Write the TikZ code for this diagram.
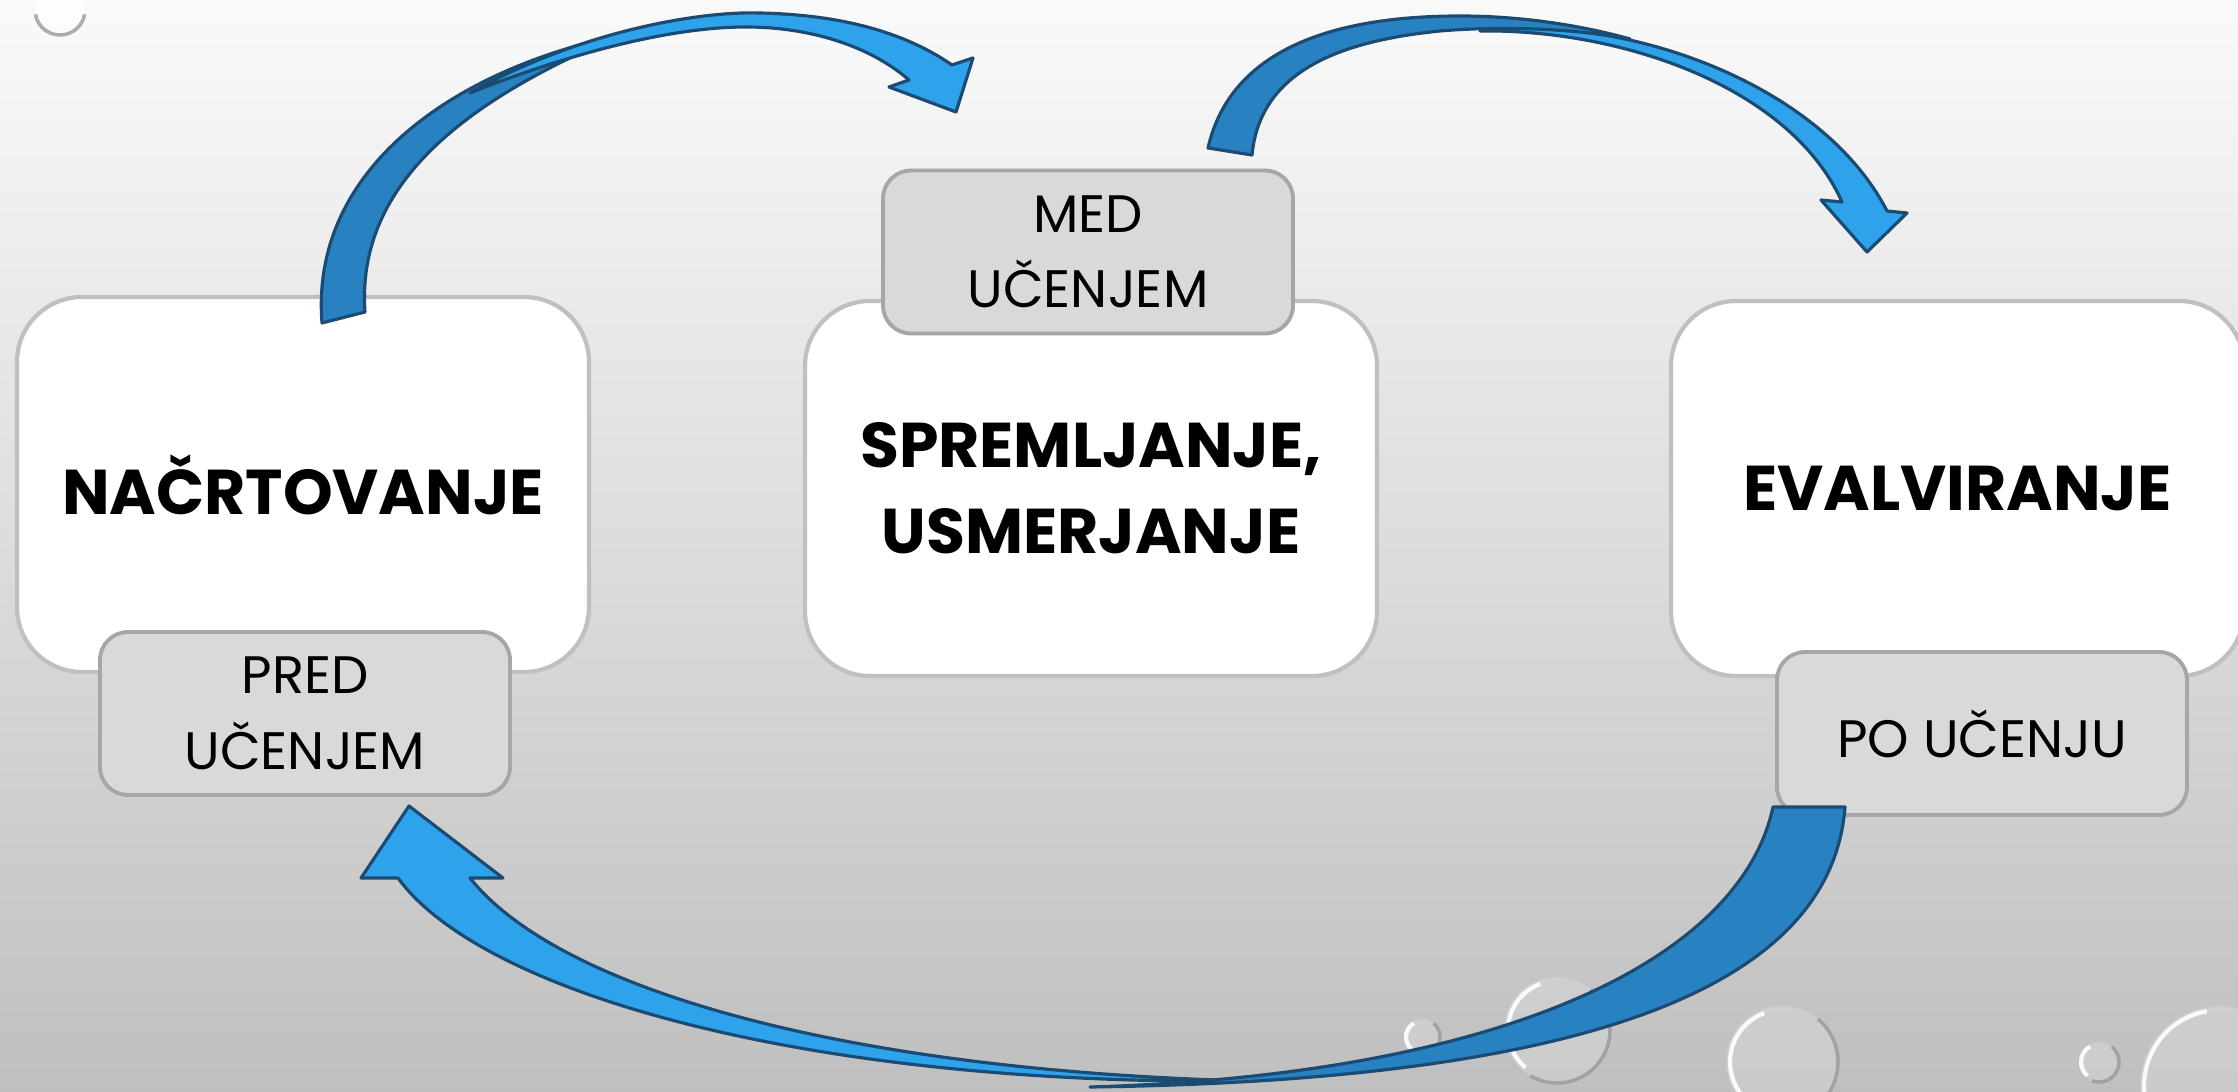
\documentclass[tikz,border=0pt]{standalone}
\usepackage{fontspec}
\setmainfont{Poppins}
\usepackage{xcolor}
\usepackage{tikz}
\usetikzlibrary{shapes.geometric, arrows, positioning, fit, calc}

\definecolor{arrowlight}{HTML}{2EA3EC}
\definecolor{arrowdark}{HTML}{2882C1}
\definecolor{arrowline}{HTML}{1B4A73}
\definecolor{boxline}{HTML}{C0C0C0}
\definecolor{tagfill}{HTML}{D9D9D9}
\definecolor{tagline}{HTML}{A6A6A6}

\tikzset{
    phasebox/.style={draw=boxline, line width=1.2pt, fill=white, rounded corners=0.65cm,
        minimum width=5.72cm, minimum height=3.75cm, align=center,
        font=\fontsize{18}{24.4}\selectfont\bfseries},
    tagbox/.style={draw=tagline, line width=1.1pt, fill=tagfill, rounded corners=0.28cm,
        minimum width=4.1cm, minimum height=1.63cm, align=center,
        font=\fontsize{15}{21.5}\selectfont},
    bandlight/.style={fill=arrowlight, draw=arrowline, line width=0.9pt, line join=round},
    banddark/.style={fill=arrowdark, draw=arrowline, line width=0.9pt, line join=round},
    dropbody/.style={fill=white, fill opacity=0.18},
    droprim/.style={gray!80, line width=1pt, opacity=0.8},
    dropshine/.style={white, line width=1.2pt, opacity=0.9}
}

\begin{document}
\begin{tikzpicture}
    \useasboundingbox (0,0) rectangle (22.38,10.91);

    % Background
    \shade[top color=gray!4, middle color=gray!20, bottom color=gray!50] (0,0) rectangle (22.38,10.91);

    % Water drops
    \fill[dropbody, fill opacity=0.7] (0.60,10.81) circle (0.25);
    \draw[droprim] (0.60,10.81) ++(-170:0.25) arc (-170:-10:0.25);
    \fill[dropbody] (14.22,0.54) circle (0.18);
    \draw[droprim] (14.22,0.54) ++(-110:0.18) arc (-110:50:0.18);
    \draw[dropshine] (14.22,0.54) ++(120:0.16) arc (120:230:0.16);
    \fill[dropbody] (15.57,0.61) circle (0.53);
    \draw[droprim] (15.57,0.61) ++(-120:0.53) arc (-120:50:0.53);
    \draw[dropshine] (15.57,0.61) ++(110:0.49) arc (110:230:0.49);
    \fill[dropbody] (17.82,0.29) circle (0.56);
    \draw[droprim] (17.82,0.29) ++(-120:0.56) arc (-120:50:0.56);
    \draw[dropshine] (17.82,0.29) ++(110:0.52) arc (110:230:0.52);
    \fill[dropbody] (20.99,0.29) circle (0.20);
    \draw[droprim] (20.99,0.29) ++(-110:0.20) arc (-110:50:0.20);
    \draw[dropshine] (20.99,0.29) ++(120:0.18) arc (120:230:0.18);
    \fill[dropbody] (22.20,0.05) circle (0.80);
    \draw[dropshine] (22.20,0.05) ++(100:0.76) arc (100:200:0.76);

    % Phase boxes
    \node[phasebox] (plan) at (3.03,6.065) {NAČRTOVANJE};
    \node[phasebox] (monitor) at (10.91,6.025) {SPREMLJANJE,\\USMERJANJE};
    \node[phasebox, minimum width=5.73cm] (evaluate) at (19.575,6.025) {EVALVIRANJE};

    % Time tags
    \node[tagbox] (before) at (3.05,3.775) {PRED\\UČENJEM};
    \node[tagbox] (during) at (10.88,8.39) {MED\\UČENJEM};
    \node[tagbox] (after) at (19.82,3.575) {PO UČENJU};

    % Arrow 1 - plan to monitor
    \draw[banddark] (3.22,7.68) .. controls (3.10,9.20) and (4.50,10.20) .. (6.20,10.56)
        .. controls (4.90,10.00) and (3.55,9.20) .. (3.65,7.79) -- cycle;
    \draw[bandlight] (4.70,9.98) .. controls (5.80,10.60) and (7.00,10.80) .. (7.60,10.78)
        .. controls (8.50,10.76) and (9.10,10.55) .. (9.52,10.26)
        -- (9.73,10.33) -- (9.56,9.79) -- (8.89,10.04) -- (9.09,10.11)
        .. controls (8.70,10.45) and (8.10,10.64) .. (7.46,10.64)
        .. controls (6.60,10.64) and (5.50,10.30) .. (4.70,9.98) -- cycle;

    % Arrow 2 - monitor to evaluate
    \draw[bandlight] (14.80,10.60) .. controls (16.20,10.78) and (18.20,10.10) .. (18.87,8.80)
        -- (19.07,8.78) -- (18.67,8.39) -- (18.21,8.91) -- (18.42,8.89)
        .. controls (17.90,10.05) and (16.20,10.62) .. (14.80,10.60) -- cycle;
    \draw[banddark] (12.08,9.43) .. controls (12.30,10.40) and (13.30,10.75) .. (14.60,10.75)
        .. controls (15.20,10.75) and (15.80,10.66) .. (16.30,10.52)
        .. controls (15.70,10.63) and (15.00,10.65) .. (14.40,10.60)
        .. controls (13.40,10.50) and (12.60,10.20) .. (12.52,9.36) -- cycle;

    % Arrow 3 - evaluate back to plan
    \draw[bandlight] (12.50,0.10) .. controls (8.00,0.05) and (4.80,1.00) .. (3.98,2.13)
        -- (3.61,2.13) -- (4.09,2.85) -- (5.03,2.13) -- (4.70,2.13)
        .. controls (5.60,1.00) and (8.50,0.20) .. (12.50,0.10) -- cycle;
    \draw[banddark] (18.45,2.84) .. controls (18.30,0.90) and (15.50,0.10) .. (10.90,0.04)
        .. controls (15.00,0.16) and (17.40,1.30) .. (17.73,2.84) -- cycle;
\end{tikzpicture}
\end{document}
